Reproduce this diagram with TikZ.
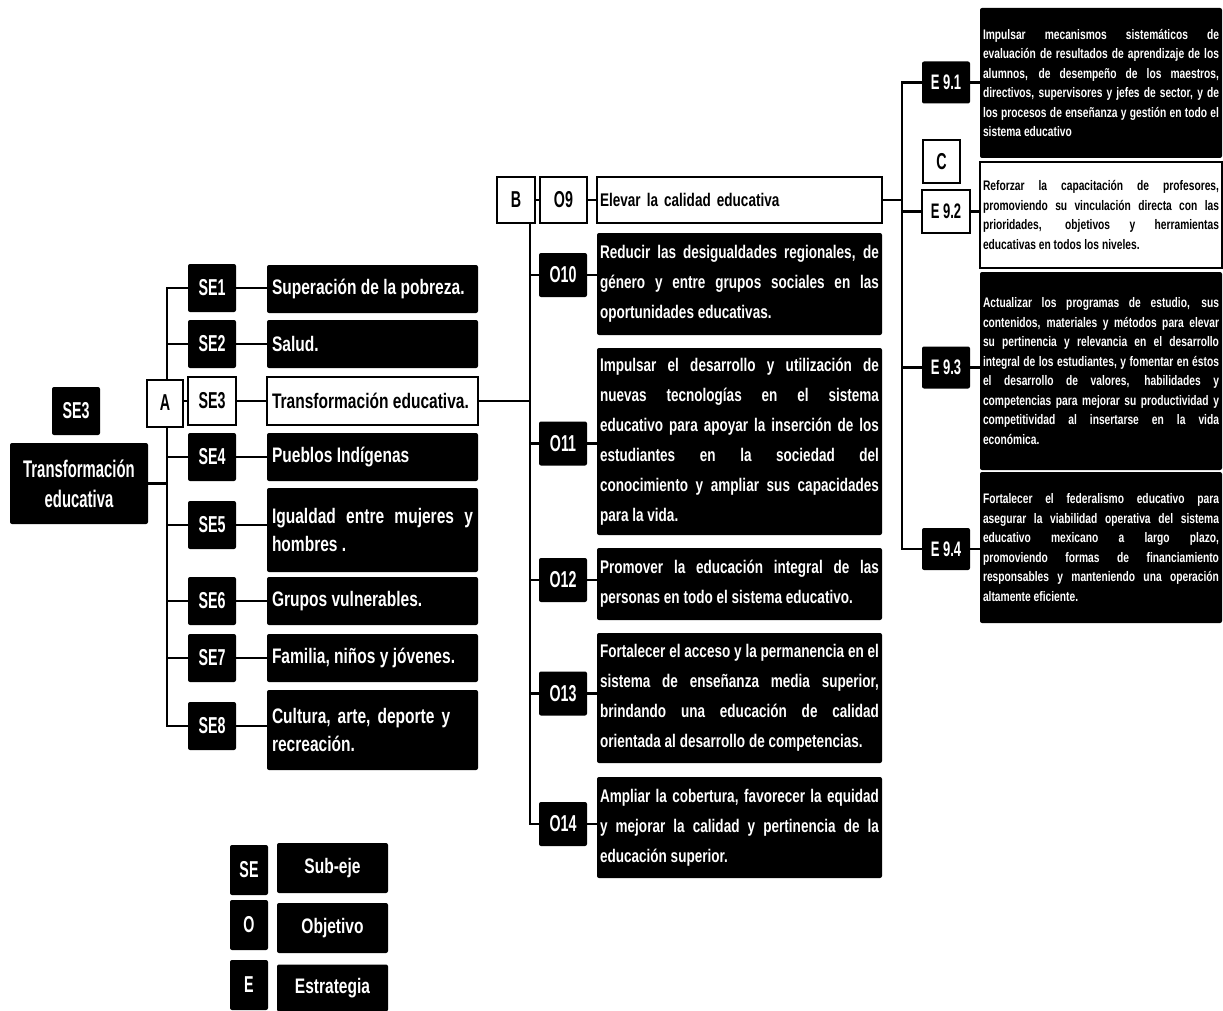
\documentclass[tikz,border=0pt]{standalone}
\usepackage{fontspec}
\setmainfont{Liberation Sans}[FakeStretch=0.74]
\newfontfamily\tagfam{Liberation Sans}[FakeStretch=0.62]
\tolerance=10000
\hbadness=10000
\newcommand\txtSE{\fontsize{21}{28}\selectfont\bfseries}
\newcommand\txtO{\fontsize{18.3}{30}\selectfont\bfseries}
\newcommand\txtE{\fontsize{13.85}{19.5}\selectfont\bfseries}
\newcommand\txtTag{\tagfam\fontsize{23}{26}\selectfont\bfseries}
\newcommand\txtETag{\tagfam\fontsize{21}{24}\selectfont\bfseries}
\newcommand\txtRoot{\tagfam\fontsize{24}{30}\selectfont\bfseries}

\tikzset{
  blk/.style={fill=black, text=white, rounded corners=2pt, inner sep=0pt},
  wht/.style={draw=black, line width=2pt, fill=white, text=black, inner sep=0pt},
  tag/.style={minimum width=48, minimum height=48, font=\txtTag},
  etag/.style={minimum width=48, minimum height=42, font=\txtETag},
  setxt/.style={text width=201, inner xsep=5, minimum height=48, align=justify, font=\txtSE},
  otxt/.style={text width=279, inner xsep=3, align=justify, font=\txtO},
  etxt/.style={text width=236, inner xsep=3, align=justify, font=\txtE},
  lnk/.style={line width=2.5pt},
}

\begin{document}
\begin{tikzpicture}[x=1pt, y=-1pt]
\useasboundingbox (0,0) rectangle (1223,1011);

% ===== Left: sub-ejes =====
\node[blk, tag] (lbl) at (76,411) {SE3};
\node[blk, text width=138, minimum height=81, align=center, font=\txtRoot] (root) at (79,483.5) {Transformación\\educativa};

\foreach \i/\y in {1/288,2/344,4/457,5/525,6/601,7/658,8/726}
  \node[blk, tag] (se\i) at (212,\y) {SE\i};
\node[wht, tag] (se3) at (212,401) {SE3};

\node[blk, setxt] (se1-t) at (372.5,289) {Superación de la pobreza.};
\node[blk, setxt] (se2-t) at (372.5,344) {Salud.};
\node[wht, setxt] (se3-t) at (372.5,401) {Transformación educativa.};
\node[blk, setxt] (se4-t) at (372.5,457) {Pueblos Indígenas};
\node[blk, setxt, minimum height=84] (se5-t) at (372.5,530) {Igualdad entre mujeres y\linebreak hombres .};
\node[blk, setxt] (se6-t) at (372.5,601) {Grupos vulnerables.};
\node[blk, setxt] (se7-t) at (372.5,658) {Familia, niños y jóvenes.};
\node[blk, setxt, minimum height=80, align=left] (se8-t) at (372.5,730) {Cultura, arte, deporte y\\recreación.};

% ===== Middle: objetivos =====
\node[wht, minimum width=38, minimum height=46, font=\txtTag] (B) at (516,200) {B};
\node[wht, tag, minimum width=47, minimum height=46] (o9) at (563.5,200) {O9};
\foreach \i/\y in {10/275,11/443.5,12/580,13/693.5,14/824}
  \node[blk, tag, minimum height=44] (o\i) at (563,\y) {O\i};

\node[wht, otxt, align=left, minimum height=46] (o9-t) at (739.5,200) {Elevar la calidad educativa};
\node[blk, otxt, minimum height=102] (o10-t) at (739.5,284) {Reducir las desigualdades regionales, de\linebreak género y entre grupos sociales en las\linebreak oportunidades educativas.};
\node[blk, otxt, minimum height=187] (o11-t) at (739.5,441.5) {Impulsar el desarrollo y utilización de\linebreak nuevas tecnologías en el sistema\linebreak educativo para apoyar la inserción de los\linebreak estudiantes en la sociedad del\linebreak conocimiento y ampliar sus capacidades\linebreak para la vida.};
\node[blk, otxt, minimum height=72] (o12-t) at (739.5,584) {Promover la educación integral de las\linebreak personas en todo el sistema educativo.};
\node[blk, otxt, minimum height=130] (o13-t) at (739.5,698) {Fortalecer el acceso y la permanencia en el\linebreak sistema de enseñanza media superior,\linebreak brindando una educación de calidad\linebreak orientada al desarrollo de competencias.};
\node[blk, otxt, minimum height=101] (o14-t) at (739.5,827.5) {Ampliar la cobertura, favorecer la equidad\linebreak y mejorar la calidad y pertinencia de la\linebreak educación superior.};

% ===== Right: estrategias =====
\node[wht, minimum width=37, minimum height=43, font=\txtTag] (C) at (941.5,161.5) {C};
\foreach \i/\y in {1/82.5,3/367.5,4/549}
  \node[blk, etag] (e\i) at (946,\y) {E 9.\i};
\node[wht, etag] (e2) at (946,211.5) {E 9.2};

\node[blk, etxt, minimum height=150] (e1-t) at (1101,83) {Impulsar mecanismos sistemáticos de\linebreak evaluación de resultados de aprendizaje de los\linebreak alumnos, de desempeño de los maestros,\linebreak directivos, supervisores y jefes de sector, y de\linebreak los procesos de enseñanza y gestión en todo el\linebreak sistema educativo};
\node[wht, etxt, minimum height=106] (e2-t) at (1101,215) {Reforzar la capacitación de profesores,\linebreak promoviendo su vinculación directa con las\linebreak prioridades, objetivos y herramientas\linebreak educativas en todos los niveles.};
\node[blk, etxt, minimum height=198] (e3-t) at (1101,371) {Actualizar los programas de estudio, sus\linebreak contenidos, materiales y métodos para elevar\linebreak su pertinencia y relevancia en el desarrollo\linebreak integral de los estudiantes, y fomentar en éstos\linebreak el desarrollo de valores, habilidades y\linebreak competencias para mejorar su productividad y\linebreak competitividad al insertarse en la vida\linebreak económica.};
\node[blk, etxt, minimum height=151] (e4-t) at (1101,547.5) {Fortalecer el federalismo educativo para\linebreak asegurar la viabilidad operativa del sistema\linebreak educativo mexicano a largo plazo,\linebreak promoviendo formas de financiamiento\linebreak responsables y manteniendo una operación\linebreak altamente eficiente.};

% ===== Connectors =====
\coordinate (spA) at (167,0);
\coordinate (spB) at (530,0);
\coordinate (spE) at (902,0);

\draw[lnk] (se1.west) -- (se1.west -| spA) -- (se8.west -| spA) -- (se8.west);
\draw[lnk] (root.east) -- (root.east -| spA);
\foreach \i in {1,...,8}
  \draw[lnk] (se\i.west -| spA) -- (se\i.west) (se\i.east) -- (se\i.east -| se\i-t.west);

\draw[lnk] (se3-t.east) -- (se3-t.east -| spB);
\draw[lnk] (B.south -| spB) -- (o14.west -| spB) -- (o14.west);
\draw[lnk] (B) -- (o9);
\draw[lnk] (o9.east) -- (o9-t.west);
\foreach \i in {10,...,14}
  \draw[lnk] (o\i.west -| spB) -- (o\i.west) (o\i.east) -- (o\i.east -| o\i-t.west);

\draw[lnk] (o9-t.east) -- (o9-t.east -| spE);
\draw[lnk] (e1.west) -- (e1.west -| spE) -- (e4.west -| spE) -- (e4.west);
\foreach \i in {1,...,4}
  \draw[lnk] (e\i.west -| spE) -- (e\i.west) (e\i.east) -- (e\i.east -| e\i-t.west);

\node[wht, minimum width=36, minimum height=47, font=\txtTag] (A) at (165,403) {A};

% ===== Legend =====
\node[blk, minimum width=38, minimum height=50, font=\txtTag] (lg-se) at (249,870) {SE};
\node[blk, minimum width=111, minimum height=50, font=\txtSE] (lg-se-t) at (332.5,868) {Sub-eje};
\node[blk, minimum width=38, minimum height=50, font=\txtTag] (lg-o) at (249,925) {O};
\node[blk, minimum width=111, minimum height=50, font=\txtSE] (lg-o-t) at (332.5,928) {Objetivo};
\node[blk, minimum width=38, minimum height=50, font=\txtTag] (lg-e) at (249,985) {E};
\node[blk, minimum width=111, minimum height=47, font=\txtSE] (lg-e-t) at (332.5,988) {Estrategia};

\end{tikzpicture}
\end{document}
